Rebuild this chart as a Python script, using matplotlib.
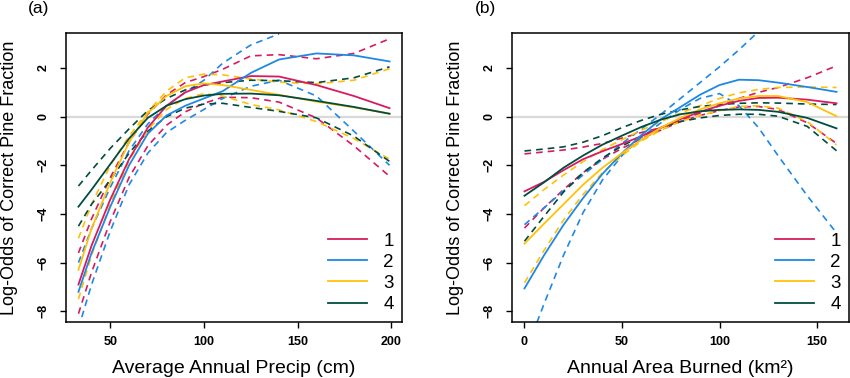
import numpy as np
import matplotlib
matplotlib.use('Agg')
import matplotlib.pyplot as plt

plt.rcParams['font.family'] = ['Liberation Sans', 'DejaVu Sans']

# (a) average annual precip (cm)
precip = [33, 40, 50, 60, 70, 80, 90, 100, 110, 125, 140, 160, 180, 199]
nan = np.nan

a_fit = {
    '1': [-6.9, -5.3, -3.4, -1.75, -0.45, 0.45, 1.0, 1.3, 1.45, 1.67, 1.65, 1.3, 0.85, 0.35],
    '2': [-7.2, -5.6, -3.7, -2.0, -0.7, 0.05, 0.45, 0.75, 1.05, 1.8, 2.35, 2.6, 2.52, 2.27],
    '3': [-6.3, -4.6, -2.7, -1.05, 0.15, 0.85, 1.25, 1.37, 1.3, 1.1, 0.9, 0.62, 0.38, 0.13],
    '4': [-3.7, -3.0, -1.95, -0.9, -0.05, 0.45, 0.72, 0.87, 0.94, 0.95, 0.88, 0.65, 0.4, 0.12],
}
a_upper = {
    '1': [-5.6, -4.2, -2.5, -1.05, 0.1, 0.9, 1.4, 1.65, 1.95, 2.5, 2.55, 2.38, 2.6, 3.2],
    '2': [-6.0, -4.6, -2.9, -1.4, -0.3, 0.45, 1.0, 1.5, 2.2, 2.95, 3.4, nan, nan, nan],
    '3': [-5.0, -3.6, -2.0, -0.8, 0.2, 1.05, 1.6, 1.75, 1.72, 1.55, 1.42, 1.35, 1.5, 1.97],
    '4': [-2.85, -2.2, -1.3, -0.5, 0.25, 0.75, 1.1, 1.3, 1.4, 1.5, 1.48, 1.4, 1.6, 2.05],
}
a_lower = {
    '1': [-8.1, -6.4, -4.3, -2.5, -1.2, -0.35, 0.2, 0.55, 0.8, 0.78, 0.6, -0.05, -1.2, -2.45],
    '2': [-8.7, -6.9, -4.7, -2.8, -1.5, -0.65, -0.15, 0.3, 0.75, 1.25, 1.5, 0.85, -0.6, -2.0],
    '3': [-7.5, -5.7, -3.6, -1.8, -0.55, 0.3, 0.75, 0.95, 0.85, 0.5, 0.28, -0.2, -0.9, -1.75],
    '4': [-4.5, -3.6, -2.6, -1.5, -0.6, 0.0, 0.35, 0.52, 0.55, 0.38, 0.22, -0.05, -0.8, -1.84],
}

# (b) annual area burned (km2)
burned = [0, 10, 20, 30, 40, 50, 60, 70, 80, 90, 100, 110, 120, 130, 145, 160]

b_fit = {
    '1': [-3.07, -2.68, -2.2, -1.75, -1.42, -1.12, -0.8, -0.45, -0.1, 0.2, 0.45, 0.65, 0.77, 0.78, 0.7, 0.55],
    '2': [-7.06, -5.7, -4.45, -3.35, -2.35, -1.5, -0.75, -0.1, 0.4, 0.9, 1.3, 1.52, 1.5, 1.4, 1.22, 1.02],
    '3': [-5.22, -4.4, -3.6, -2.8, -2.1, -1.5, -0.95, -0.45, -0.05, 0.3, 0.55, 0.75, 0.85, 0.85, 0.6, 0.02],
    '4': [-3.25, -2.7, -2.1, -1.6, -1.15, -0.78, -0.42, -0.12, 0.1, 0.22, 0.28, 0.3, 0.28, 0.2, -0.05, -0.48],
}
b_upper = {
    '1': [-1.53, -1.45, -1.37, -1.25, -1.1, -0.88, -0.65, -0.45, -0.15, 0.15, 0.45, 0.75, 1.0, 1.2, 1.6, 2.09],
    '2': [-4.44, -3.75, -3.05, -2.4, -1.75, -1.1, -0.5, 0.1, 0.75, 1.4, 2.05, 2.75, 3.5, nan, nan, nan],
    '3': [-3.66, -3.0, -2.4, -1.85, -1.35, -0.95, -0.55, -0.2, 0.15, 0.45, 0.75, 0.98, 1.12, 1.2, 1.22, 1.2],
    '4': [-1.41, -1.33, -1.24, -1.05, -0.78, -0.45, -0.15, 0.1, 0.28, 0.42, 0.5, 0.55, 0.57, 0.56, 0.52, 0.5],
}
b_lower = {
    '1': [-4.58, -3.75, -3.0, -2.3, -1.75, -1.3, -0.9, -0.55, -0.2, 0.05, 0.25, 0.4, 0.42, 0.3, -0.25, -1.1],
    '2': [-9.8, -7.7, -5.7, -3.95, -2.6, -1.6, -0.85, -0.25, 0.3, 0.75, 0.95, 0.45, -0.45, -1.6, -3.25, -4.78],
    '3': [-6.83, -5.5, -4.25, -3.2, -2.3, -1.6, -1.0, -0.55, -0.2, 0.05, 0.25, 0.42, 0.45, 0.35, -0.2, -1.16],
    '4': [-5.12, -4.1, -3.1, -2.3, -1.7, -1.2, -0.8, -0.45, -0.2, -0.05, 0.05, 0.1, 0.1, 0.02, -0.4, -1.4],
}

groups = ['1', '2', '3', '4']
colors = {'1': '#D81B60', '2': '#1E88E5', '3': '#FFC107', '4': '#004D40'}


def panel(ax, x, fit, upper, lower, xticks, xlabel):
    ax.axhline(0, color='#D9D9D9', lw=1.6, zorder=1)
    for g in groups:
        ax.plot(x, upper[g], color=colors[g], lw=1.2, ls=(0, (4, 3)), zorder=2)
        ax.plot(x, lower[g], color=colors[g], lw=1.2, ls=(0, (4, 3)), zorder=2)
    for g in groups:
        ax.plot(x, fit[g], color=colors[g], lw=1.3, label=g, zorder=3)

    span = x[-1] - x[0]
    ax.set_xlim(x[0] - 0.04 * span, x[-1] + 0.04 * span)
    ax.set_ylim(-8.44, 3.44)
    ax.set_xticks(xticks)
    ax.set_yticks([-8, -6, -4, -2, 0, 2])
    ax.tick_params(direction='out', length=4, width=1, pad=6, labelsize=9)
    ax.tick_params(axis='y', pad=8)
    for lbl in ax.get_xticklabels() + ax.get_yticklabels():
        lbl.set_fontweight('bold')
    for lbl in ax.get_yticklabels():
        lbl.set_rotation(90)
        lbl.set_va('center')
    for s in ax.spines.values():
        s.set_linewidth(1.1)

    ax.set_xlabel(xlabel, fontsize=14, va='baseline')
    ax.xaxis.set_label_coords(0.5, -0.1775)
    ax.set_ylabel('Log-Odds of Correct Pine Fraction', fontsize=13, va='center')
    ax.yaxis.set_label_coords(-0.168, 0.5)

    ax.legend(loc='upper left', bbox_to_anchor=(0.78, 0.31), frameon=False,
              fontsize=13.5, handlelength=2.1, handletextpad=0.85,
              labelspacing=0.22, borderpad=0, borderaxespad=0)


fig = plt.figure(figsize=(8.5, 3.78), dpi=100)
ax1 = fig.add_axes([66 / 850, 1 - 322 / 378, 336 / 850, 289 / 378])
ax2 = fig.add_axes([512 / 850, 1 - 322 / 378, 337 / 850, 289 / 378])

panel(ax1, precip, a_fit, a_upper, a_lower, [50, 100, 150, 200],
      'Average Annual Precip (cm)')
panel(ax2, burned, b_fit, b_upper, b_lower, [0, 50, 100, 150],
      'Annual Area Burned (km²)')

fig.text(28 / 850, 1 - 8 / 378, '(a)', fontsize=12.5, va='center', ha='left')
fig.text(475 / 850, 1 - 8 / 378, '(b)', fontsize=12.5, va='center', ha='left')

fig.savefig('out.png', dpi=100)
